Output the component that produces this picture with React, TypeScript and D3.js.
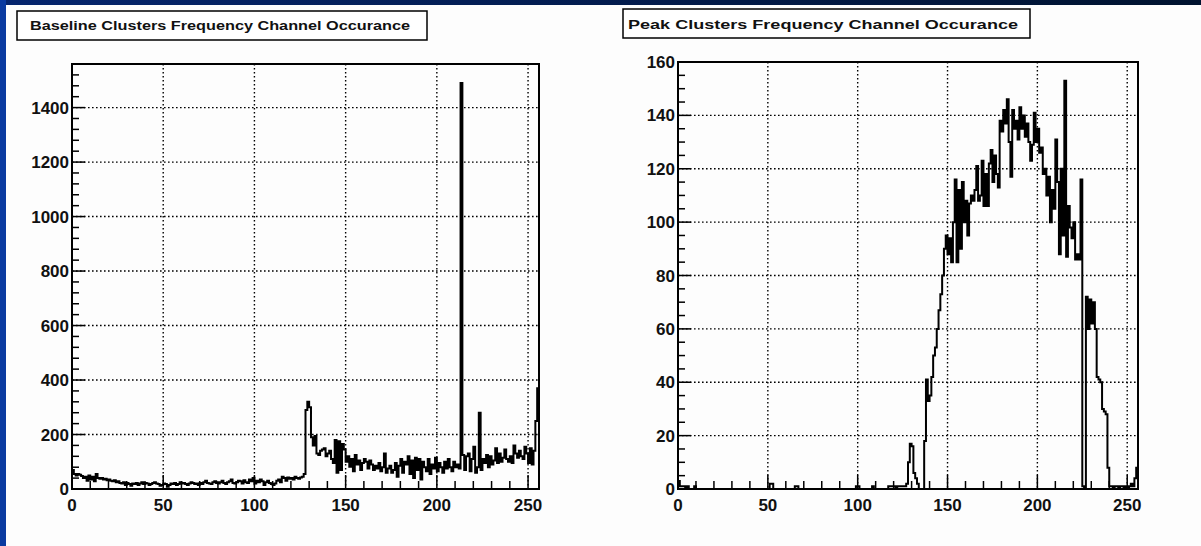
import React from 'react';
import * as d3 from 'd3';

const baselineCounts = [
  70, 55, 50, 55, 52, 48, 40, 45, 30, 50, 35, 45, 28, 55, 40, 38,
  40, 35, 38, 32, 35, 30, 28, 32, 25, 28, 22, 20, 25, 15, 22, 18,
  12, 20, 18, 22, 15, 20, 25, 18, 22, 20, 15, 18, 22, 25, 20, 18,
  12, 15, 20, 18, 8, 15, 20, 18, 22, 15, 18, 25, 20, 22, 18, 15,
  20, 25, 22, 18, 20, 15, 22, 18, 25, 30, 22, 20, 18, 25, 28, 22,
  20, 25, 30, 22, 18, 25, 28, 35, 22, 20, 25, 30, 28, 20, 32, 25,
  22, 35, 28, 40, 20, 30, 25, 35, 28, 15, 25, 30, 22, 18, 15, 20,
  30, 35, 25, 45, 40, 30, 42, 38, 40, 35, 45, 40, 38, 42, 45, 55,
  290, 320, 300, 190, 160, 195, 130, 125, 140, 145, 150, 120, 130, 140, 110, 95,
  180, 60, 175, 70, 165, 145, 100, 120, 82, 110, 65, 125, 90, 105, 70, 95,
  110, 100, 75, 105, 90, 70, 85, 75, 95, 65, 80, 130, 60, 75, 85, 60,
  70, 95, 45, 85, 110, 60, 100, 90, 120, 55, 105, 40, 115, 70, 110, 35,
  100, 80, 65, 110, 55, 90, 75, 115, 65, 95, 80, 60, 100, 75, 110, 80,
  65, 100, 80, 90, 75, 1490, 125, 70, 120, 130, 65, 110, 155, 60, 80, 280,
  70, 110, 95, 125, 80, 120, 90, 105, 150, 95, 130, 100, 115, 145, 110, 100,
  120, 95, 160, 130, 115, 140, 120, 110, 155, 130, 95, 150, 90, 140, 250, 370,
];

const peakCounts = [
  3, 1, 1, 1, 0, 1, 0, 0, 0, 1, 0, 0, 0, 0, 0, 0,
  0, 0, 0, 0, 0, 0, 0, 0, 0, 0, 0, 0, 0, 0, 0, 0,
  0, 0, 0, 0, 0, 0, 0, 0, 0, 0, 0, 0, 0, 0, 0, 0,
  0, 0, 0, 2, 2, 0, 0, 0, 0, 0, 0, 0, 0, 0, 0, 0,
  0, 1, 1, 0, 0, 0, 0, 0, 0, 0, 0, 0, 0, 0, 0, 0,
  0, 0, 0, 0, 0, 0, 0, 0, 0, 0, 0, 0, 0, 0, 0, 0,
  0, 0, 0, 1, 1, 0, 0, 0, 0, 0, 0, 0, 1, 0, 0, 0,
  0, 0, 0, 0, 0, 1, 1, 1, 1, 0, 1, 1, 1, 1, 1, 2,
  10, 17, 16, 6, 4, 2, 0, 0, 0, 18, 41, 33, 35, 42, 50, 53,
  60, 67, 73, 80, 90, 95, 88, 94, 85, 100, 116, 85, 112, 90, 115, 100,
  108, 95, 107, 110, 108, 112, 121, 108, 110, 123, 106, 118, 106, 122, 127, 115,
  125, 118, 113, 138, 134, 142, 137, 146, 130, 117, 142, 135, 138, 131, 143, 135,
  140, 132, 137, 130, 123, 129, 141, 130, 135, 126, 128, 118, 120, 110, 117, 100,
  112, 105, 131, 115, 88, 120, 95, 153, 87, 106, 98, 94, 100, 86, 88, 86,
  116, 1, 0, 72, 60, 71, 62, 70, 60, 42, 41, 40, 30, 29, 28, 8,
  1, 1, 0, 1, 1, 0, 1, 1, 0, 1, 0, 1, 2, 1, 4, 8,
];

const xTickLabels = [0, 50, 100, 150, 200, 250];
const leftYTickLabels = [0, 200, 400, 600, 800, 1000, 1200, 1400];
const rightYTickLabels = [0, 20, 40, 60, 80, 100, 120, 140, 160];
const leftTitle = 'Baseline Clusters Frequency Channel Occurance';
const rightTitle = 'Peak Clusters Frequency Channel Occurance';

const FONT = '"Liberation Sans", Arial, Helvetica, sans-serif';

type HistProps = {
  data: number[];
  left: number;
  right: number;
  top: number;
  bottom: number;
  yMax: number;
  yTicks: number[];
  yMinor: number;
  title: string;
  box: { x: number; y: number; w: number; h: number; tx: number; ty: number; tl: number; fs: number };
};

function Hist({ data, left, right, top, bottom, yMax, yTicks, yMinor, title, box }: HistProps) {
  const x = d3.scaleLinear().domain([0, data.length]).range([left, right]);
  const y = d3.scaleLinear().domain([0, yMax]).range([bottom, top]);
  const pts: [number, number][] = data.map((v, i) => [i, v] as [number, number]);
  pts.push([data.length, data[data.length - 1]]);
  const line = d3
    .line<[number, number]>()
    .x((d) => x(d[0]))
    .y((d) => y(d[1]))
    .curve(d3.curveStepAfter);
  const xMinor = d3.range(0, data.length + 0.001, 10);
  const yMinorTicks = d3.range(0, yMax + 0.001, yMinor);
  const dash = '1.6,2.4';
  return (
    <g>
      <rect x={box.x} y={box.y} width={box.w} height={box.h} fill="#fff" stroke="#000" strokeWidth={1.5} />
      <text
        x={box.tx}
        y={box.ty}
        fontFamily={FONT}
        fontWeight="bold"
        fontSize={box.fs}
        textLength={box.tl}
        lengthAdjust="spacingAndGlyphs"
        fill="#111"
      >
        {title}
      </text>
      {xTickLabels
        .filter((t) => t > 0)
        .map((t) => (
          <line key={'gx' + t} x1={x(t)} x2={x(t)} y1={top} y2={bottom} stroke="#000" strokeWidth={1.4} strokeDasharray={dash} />
        ))}
      {yTicks
        .filter((t) => t > 0 && t < yMax)
        .map((t) => (
          <line key={'gy' + t} x1={left} x2={right} y1={y(t)} y2={y(t)} stroke="#000" strokeWidth={1.4} strokeDasharray={dash} />
        ))}
      {xMinor.map((t) => {
        const major = t % 50 === 0;
        return (
          <line key={'tx' + t} x1={x(t)} x2={x(t)} y1={bottom} y2={bottom - (major ? 14 : 8)} stroke="#000" strokeWidth={1.5} />
        );
      })}
      {yMinorTicks.map((t) => {
        const major = yTicks.includes(t);
        return (
          <line key={'ty' + t} x1={left} x2={left + (major ? 13 : 7)} y1={y(t)} y2={y(t)} stroke="#000" strokeWidth={1.5} />
        );
      })}
      <path d={line(pts) || ''} fill="none" stroke="#000" strokeWidth={2} strokeLinejoin="miter" />
      <rect x={left} y={top} width={right - left} height={bottom - top} fill="none" stroke="#000" strokeWidth={2} />
      {xTickLabels.map((t) => (
        <text key={'lx' + t} x={x(t)} y={bottom + 22} textAnchor="middle" fontFamily={FONT} fontWeight="bold" fontSize={17} fill="#111">
          {t}
        </text>
      ))}
      {yTicks.map((t) => (
        <text key={'ly' + t} x={left - 3} y={y(t) + 6} textAnchor="end" fontFamily={FONT} fontWeight="bold" fontSize={17} fill="#111">
          {t}
        </text>
      ))}
    </g>
  );
}

export default function App() {
  return (
    <svg
      width={1201}
      height={546}
      style={{ position: 'absolute', left: 0, top: 0, display: 'block' }}
      xmlns="http://www.w3.org/2000/svg"
    >
      <defs>
        <linearGradient id="topband" x1="0" x2="1" y1="0" y2="0">
          <stop offset="0" stopColor="#05256e" />
          <stop offset="1" stopColor="#00132f" />
        </linearGradient>
      </defs>
      <rect x={0} y={0} width={1201} height={546} fill="#fdfdfd" />
      <rect x={0} y={0} width={1201} height={5} fill="url(#topband)" />
      <rect x={0} y={0} width={6} height={546} fill="#0a3aa0" />
      <Hist
        data={baselineCounts}
        left={72}
        right={539}
        top={64}
        bottom={489}
        yMax={1560}
        yTicks={leftYTickLabels}
        yMinor={40}
        title={leftTitle}
        box={{ x: 17, y: 11, w: 410, h: 29, tx: 30, ty: 30, tl: 380, fs: 12 }}
      />
      <Hist
        data={peakCounts}
        left={678}
        right={1138}
        top={62}
        bottom={489}
        yMax={160}
        yTicks={rightYTickLabels}
        yMinor={5}
        title={rightTitle}
        box={{ x: 623, y: 9, w: 407, h: 29, tx: 628, ty: 29, tl: 390, fs: 13.5 }}
      />
    </svg>
  );
}
